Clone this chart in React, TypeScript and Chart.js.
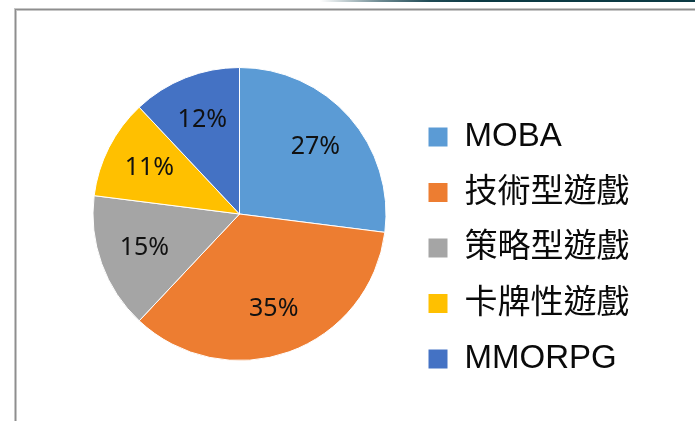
import React, { useEffect, useRef } from "react";
import { Chart, registerables } from "chart.js";

Chart.register(...registerables);

const categories = ["MOBA", "技術型遊戲", "策略型遊戲", "卡牌性遊戲", "MMORPG"];
const shares = [27, 35, 15, 11, 12];
const sliceColors = ["#5B9BD5", "#ED7D31", "#A5A5A5", "#FFC000", "#4472C4"];

const pctLabels = {
  id: "pctLabels",
  afterDatasetsDraw(chart: any) {
    const ctx = chart.ctx;
    const meta = chart.getDatasetMeta(0);
    const data = chart.data.datasets[0].data as number[];
    ctx.save();
    ctx.font = '25px "Noto Sans", "Open Sans", sans-serif';
    ctx.fillStyle = "#111111";
    ctx.textAlign = "center";
    ctx.textBaseline = "middle";
    meta.data.forEach((arc: any, i: number) => {
      const p = arc.getProps(["x", "y", "startAngle", "endAngle", "outerRadius"], true);
      const mid = (p.startAngle + p.endAngle) / 2;
      const r = p.outerRadius * 0.69;
      ctx.fillText(data[i] + "%", p.x + Math.cos(mid) * r, p.y + Math.sin(mid) * r);
    });
    ctx.restore();
  },
};

export default function App() {
  const ref = useRef<HTMLCanvasElement>(null);
  useEffect(() => {
    if (!ref.current) return;
    const chart = new Chart(ref.current, {
      type: "pie",
      data: {
        labels: categories,
        datasets: [
          {
            data: shares,
            backgroundColor: sliceColors,
            borderColor: "#ffffff",
            borderWidth: 1,
            radius: 146.5,
          } as any,
        ],
      },
      options: {
        responsive: false,
        animation: false,
        devicePixelRatio: 1,
        layout: { padding: { left: 73.5, right: 55.5, top: 20, bottom: 13 } },
        plugins: {
          tooltip: { enabled: false },
          legend: {
            position: "right",
            align: "start",
            title: {
              display: true,
              text: "",
              font: { size: 10, lineHeight: 1 },
              padding: { top: 68, bottom: 0 },
            },
            labels: {
              boxWidth: 20,
              boxHeight: 20,
              padding: 22.5,
              color: "#0a0a0a",
              font: { size: 33, family: '"Liberation Sans", "Noto Sans CJK TC", sans-serif' },
            },
          },
        },
      },
      plugins: [pctLabels],
    });
    return () => chart.destroy();
  }, []);

  return (
    <div style={{ position: "fixed", left: 0, top: 0, width: 695, height: 421, background: "#ffffff", overflow: "hidden" }}>
      <div
        style={{
          position: "absolute",
          left: 320,
          top: 0,
          width: 375,
          height: 2,
          background: "linear-gradient(to right, rgba(255,255,255,0) 0px, #6d8a92 60px, #1f4a55 110px, #0c3a44 160px, #0c3a44 375px)",
        }}
      />
      <div
        style={{
          position: "absolute",
          left: 14,
          top: 8,
          width: 720,
          height: 440,
          borderTop: "1px solid #c6c6c6",
          borderLeft: "1px solid #c6c6c6",
          boxShadow: "inset 1px 1px 0 #8e8e8e, inset 2px 2px 0 #c6c6c6",
        }}
      />
      <canvas ref={ref} width={695} height={421} style={{ position: "absolute", left: 0, top: 0 }} />
    </div>
  );
}
